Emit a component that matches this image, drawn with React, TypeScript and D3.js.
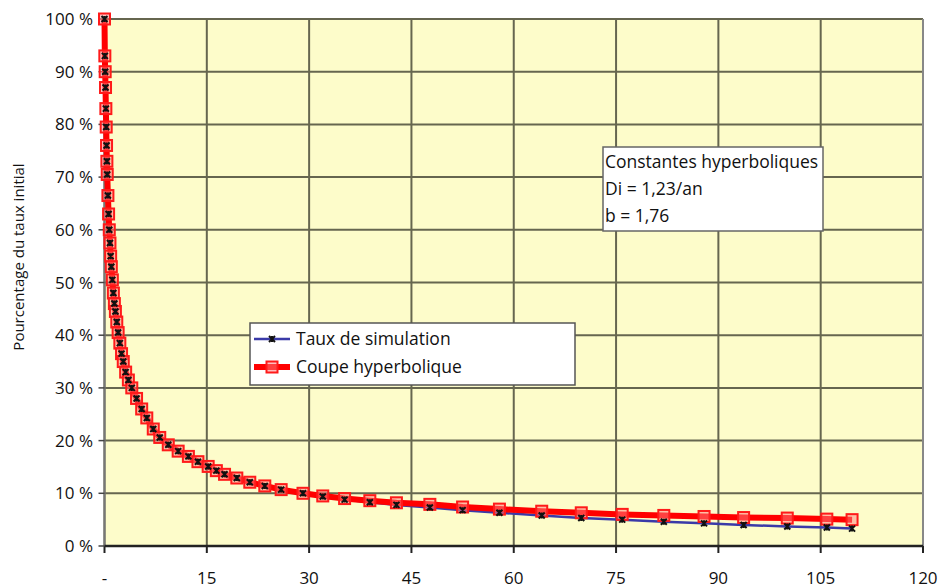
import React from 'react';
import * as d3 from 'd3';

// time (months) of each sample
const months = [
  0, 0.05, 0.1, 0.15, 0.2, 0.25, 0.3, 0.35, 0.4, 0.5, 0.6, 0.7, 0.8, 0.9, 1.0,
  1.15, 1.3, 1.45, 1.6, 1.8, 2.0, 2.25, 2.5, 2.75, 3.1, 3.5, 4.0, 4.7, 5.45, 6.2,
  7.15, 8.1, 9.35, 10.8, 12.3, 13.7, 15.2, 16.4, 17.6, 19.4, 21.3, 23.5, 25.9,
  29.1, 32.0, 35.2, 38.9, 42.8, 47.7, 52.5, 57.9, 64.1, 69.9, 75.9, 82.0, 87.9,
  93.7, 100.1, 105.9, 109.6,
];

// Taux de simulation (% of initial rate)
const simulation = [
  100, 93, 90, 87, 83, 79.5, 76, 73, 70.5, 66.5, 63, 60, 57.5, 55, 53,
  50.5, 48, 46, 44.5, 42.5, 40.5, 38.5, 36.5, 35, 33, 31.5, 30, 28, 26, 24.3,
  22.2, 20.6, 19.2, 18, 17, 16, 15.1, 14.3, 13.6, 12.9, 12.1, 11.4, 10.7,
  10, 9.4, 8.8, 8.3, 7.8, 7.3, 6.8, 6.3, 5.8, 5.3, 5.0, 4.6, 4.3,
  4.0, 3.7, 3.5, 3.3,
];

// Coupe hyperbolique (% of initial rate)
const hyperbolic = [
  100, 93, 90, 87, 83, 79.5, 76, 73, 70.5, 66.5, 63, 60, 57.5, 55, 53,
  50.5, 48, 46, 44.5, 42.5, 40.5, 38.5, 36.5, 35, 33, 31.5, 30, 28, 26, 24.3,
  22.2, 20.6, 19.2, 18, 17, 16, 15.1, 14.3, 13.6, 12.9, 12.1, 11.4, 10.7,
  10, 9.5, 9.0, 8.6, 8.2, 7.9, 7.4, 7.0, 6.6, 6.3, 6.0, 5.8, 5.6,
  5.4, 5.3, 5.1, 5.0,
];

const xTicks = [0, 15, 30, 45, 60, 75, 90, 105, 120];
const yTicks = [0, 10, 20, 30, 40, 50, 60, 70, 80, 90, 100];

const legendLabels = ['Taux de simulation', 'Coupe hyperbolique'];
const noteLines = ['Constantes hyperboliques', 'Di = 1,23/an', 'b = 1,76'];

const W = 944;
const H = 588;
const FONT = "'Open Sans', 'Liberation Sans', sans-serif";

export default function App() {
  const x = d3.scaleLinear().domain([0, 120]).range([104.5, 923]);
  const y = d3.scaleLinear().domain([0, 100]).range([546, 19]);

  const simPts = months.map((m, i) => [m, simulation[i]] as [number, number]);
  const hypPts = months.map((m, i) => [m, hyperbolic[i]] as [number, number]);
  const line = d3.line<[number, number]>().x(d => x(d[0])).y(d => y(d[1]));

  // asterisk-like marker used by the simulation series
  const star = (cx: number, cy: number, r: number) =>
    `M${cx - r},${cy - r}L${cx + r},${cy + r}M${cx - r},${cy + r}L${cx + r},${cy - r}M${cx},${cy - r}L${cx},${cy + r}`;

  const [x0, x1] = x.range();
  const [yb, yt] = y.range();

  return (
    <svg width={W} height={H} style={{ position: 'absolute', left: 0, top: 0, background: '#fff' }}>
      {/* plot area */}
      <rect x={x0} y={yt} width={x1 - x0} height={yb - yt} fill="#fdfcca" />
      {yTicks.map(t => (
        <line key={'gy' + t} x1={x0} x2={x1} y1={y(t)} y2={y(t)} stroke="#66664f" strokeWidth={2} />
      ))}
      {xTicks.map(t => (
        <line key={'gx' + t} x1={x(t)} x2={x(t)} y1={yt} y2={yb} stroke="#66664f" strokeWidth={2} />
      ))}
      <line x1={x1} x2={x1} y1={yt} y2={yb} stroke="#888" strokeWidth={2} />
      <line x1={x0} x2={x0} y1={yt} y2={yb} stroke="#777" strokeWidth={2} />

      {/* x axis */}
      <line x1={x0} x2={x1} y1={yb} y2={yb} stroke="#222" strokeWidth={2.5} />
      {xTicks.map(t => (
        <g key={'xt' + t}>
          <line x1={x(t)} x2={x(t)} y1={yb} y2={yb + 7} stroke="#222" strokeWidth={2} />
          <text x={x(t)} y={584} textAnchor="middle" fontFamily={FONT} fontSize={17} fill="#111">
            {t === 0 ? '-' : t}
          </text>
        </g>
      ))}

      {/* y axis */}
      {yTicks.map(t => (
        <g key={'yt' + t}>
          <line x1={x0 - 6} x2={x0} y1={y(t)} y2={y(t)} stroke="#444" strokeWidth={1.5} />
          <text x={93} y={y(t) + 6} textAnchor="end" fontFamily={FONT} fontSize={17} fill="#111">
            {t + ' %'}
          </text>
        </g>
      ))}
      <text
        transform={`translate(24,257) rotate(-90)`}
        textAnchor="middle"
        fontFamily={FONT}
        fontSize={15}
        fill="#111"
      >
        Pourcentage du taux initial
      </text>

      {/* series */}
      <path d={line(simPts) || ''} fill="none" stroke="#3a3aa8" strokeWidth={2.5} />
      <path d={line(hypPts) || ''} fill="none" stroke="#ff0000" strokeWidth={6} />
      {hypPts.map((d, i) => (
        <rect key={'h' + i} x={x(d[0]) - 5.5} y={y(d[1]) - 5.5} width={11} height={11}
          fill="#ff8080" fillOpacity={0.5} stroke="#ff1a1a" strokeWidth={2} />
      ))}
      {simPts.map((d, i) => (
        <path key={'s' + i} d={star(x(d[0]), y(d[1]), 3)} stroke="#111" strokeWidth={2} />
      ))}

      {/* legend */}
      <rect x={250} y={323} width={325} height={62} fill="#fff" stroke="#555" strokeWidth={1.5} />
      <line x1={254} x2={290} y1={339} y2={339} stroke="#3a3aa8" strokeWidth={2.5} />
      <path d={star(272, 339, 3)} stroke="#111" strokeWidth={2} />
      <line x1={254} x2={290} y1={367} y2={367} stroke="#ff0000" strokeWidth={6} />
      <rect x={266.5} y={361.5} width={11} height={11} fill="#ff8080" fillOpacity={0.5} stroke="#ff1a1a" strokeWidth={2} />
      {legendLabels.map((l, i) => (
        <text key={l} x={296} y={345 + i * 28} fontFamily={FONT} fontSize={17.5} fill="#111">{l}</text>
      ))}

      {/* note */}
      <rect x={603} y={147} width={220} height={84} fill="#fff" stroke="#666" strokeWidth={1.5} />
      {noteLines.map((l, i) => (
        <text key={l} x={605} y={168 + i * 27} fontFamily={FONT} fontSize={17.5} fill="#111">{l}</text>
      ))}
    </svg>
  );
}
